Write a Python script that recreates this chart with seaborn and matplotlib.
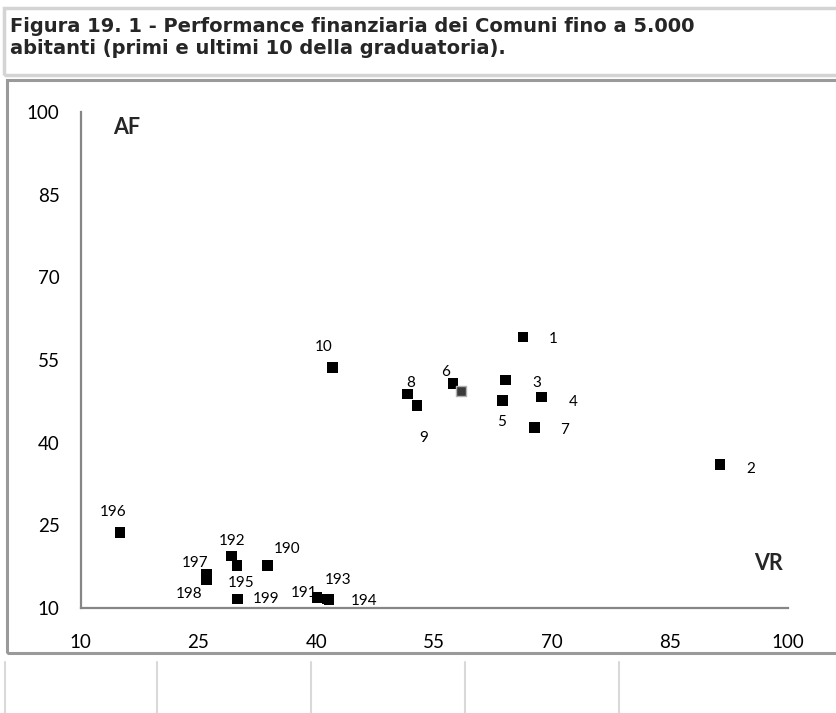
import matplotlib
matplotlib.use("Agg")
import matplotlib.pyplot as plt
import seaborn as sns
import pandas as pd
from matplotlib.patches import Rectangle
from matplotlib.lines import Line2D

# ---- data ----
labels = ["1", "2", "3", "4", "5", "6", "7", "8", "9", "10",
          "196", "192", "195", "190", "197", "198", "199", "191", "193", "194"]
vr = [66.3, 91.4, 64.1, 68.7, 63.7, 57.4, 67.8, 51.6, 52.8, 42.1,
      15.0, 29.2, 29.9, 33.8, 26.0, 26.0, 30.0, 40.1, 41.4, 41.6]
af = [59.2, 36.0, 51.4, 48.3, 47.6, 50.7, 42.7, 48.8, 46.7, 53.6,
      23.7, 19.4, 17.7, 17.7, 16.2, 15.2, 11.6, 11.9, 11.6, 11.5]
extra_vr = [58.4]
extra_af = [49.4]
x_ticks = [10, 25, 40, 55, 70, 85, 100]
y_ticks = [10, 25, 40, 55, 70, 85, 100]
title_lines = ["Figura 19. 1 - Performance finanziaria dei Comuni fino a 5.000",
               "abitanti (primi e ultimi 10 della graduatoria)."]

# label offsets (pixels) for data labels
label_dx = [30, 31, 31, 31, -1, -7, 30, 3, 7, -9,
            -7, 1, 4, 20, -11, -17, 28, -13, 11, 35]
label_dy = [-2, -4, -3, -5, -21, 12, -2, 11, -32, 21,
            20, 15, -17, 17, 11, -15, 0, 5, 19, -1]

sns.set_style("white")
plt.rcParams['font.family'] = ['Lato', 'DejaVu Sans']

W, H = 836, 713
fig = plt.figure(figsize=(W / 100, H / 100), dpi=100)


def fx(px):
    return px / W


def fy(py):
    return 1 - py / H


# background decorations: title box, chart frame, spreadsheet cells
fig.add_artist(Rectangle((fx(4), fy(75)), fx(900) - fx(4), fy(8) - fy(75),
                         transform=fig.transFigure, fill=False,
                         edgecolor="#d4d4d4", lw=2.5))
fig.add_artist(Rectangle((fx(7), fy(653)), fx(900) - fx(7), fy(80) - fy(653),
                         transform=fig.transFigure, fill=False,
                         edgecolor="#9a9a9a", lw=2.2))
for xc in [5, 157, 311, 465, 619]:
    fig.add_artist(Line2D([fx(xc), fx(xc)], [fy(662), fy(713)],
                          transform=fig.transFigure, color="#d9d9d9", lw=1.5))

fig.text(fx(10), fy(26), title_lines[0], ha="left", va="center",
         fontsize=14, fontweight="bold", family=["DejaVu Sans"])
fig.text(fx(10), fy(48), title_lines[1], ha="left", va="center",
         fontsize=14, fontweight="bold", family=["DejaVu Sans"])

ax = fig.add_axes([fx(80.5), fy(608), fx(787.7) - fx(80.5), fy(112) - fy(608)])
ax.set_facecolor("none")

df = pd.DataFrame({"VR": vr, "AF": af, "label": labels})
sns.scatterplot(data=df, x="VR", y="AF", marker="s", s=58, color="black",
                edgecolor="none", ax=ax, legend=False, zorder=3)
sns.scatterplot(x=extra_vr, y=extra_af, marker="s", s=58, color="#3a3a3a",
                edgecolor="#b0b0b0", linewidth=1.0, ax=ax, legend=False, zorder=3)

for lab, xv, yv, dx, dy in zip(labels, vr, af, label_dx, label_dy):
    ax.annotate(lab, (xv, yv), xytext=(dx, dy), textcoords="offset pixels",
                ha="center", va="center", fontsize=11, color="black")

ax.set_xlim(10, 100)
ax.set_ylim(10, 100)
ax.set_xticks(x_ticks)
ax.set_yticks(y_ticks)
ax.set_xlabel("")
ax.set_ylabel("")
for s in ["top", "right"]:
    ax.spines[s].set_visible(False)
for s in ["left", "bottom"]:
    ax.spines[s].set_color("#868686")
    ax.spines[s].set_linewidth(1.6)
ax.tick_params(axis="both", direction="out", length=5, width=1.6,
               color="#868686", labelsize=13.5, labelcolor="black")
ax.tick_params(axis="x", pad=14)
ax.tick_params(axis="y", pad=10)

ax.text(fx(127), fy(128), "AF", transform=fig.transFigure, ha="center",
        va="center", fontsize=15.5, fontweight="bold")
ax.text(fx(768), fy(563), "VR", transform=fig.transFigure, ha="center",
        va="center", fontsize=15.5, fontweight="bold")

fig.savefig("out.png", dpi=100)
